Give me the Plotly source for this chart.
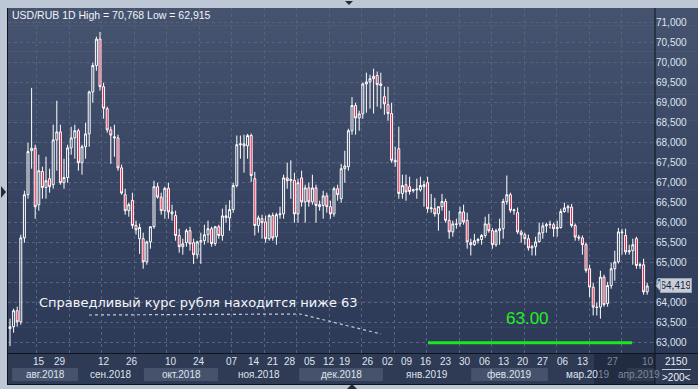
import plotly.graph_objects as go

# ---------------- data ----------------
open_ = [63.35, 63.40, 63.80, 63.52, 65.62, 66.70, 67.80, 67.86, 66.45, 67.28,
         66.88, 67.10, 66.95, 68.07, 68.27, 67.00, 67.13, 67.87, 68.12, 68.30,
         67.50, 67.90, 68.22, 69.27, 69.93, 70.59, 69.40, 68.85, 68.32, 68.15,
         68.12, 67.37, 66.70, 66.30, 66.56, 65.93, 65.60, 65.60, 65.02, 65.52,
         65.90, 66.90, 66.64, 66.30, 66.86, 66.27, 66.18, 65.68, 65.40, 65.50,
         65.80, 65.50, 65.20, 65.52, 65.55, 65.70, 65.85, 65.48, 65.90, 65.68,
         66.17, 66.12, 66.33, 66.93, 67.95, 67.97, 67.92, 68.18, 67.10, 65.93,
         66.10, 66.02, 65.60, 66.18, 65.65, 66.20, 66.22, 67.12, 67.05, 67.06,
         66.22, 67.12, 66.52, 66.87, 66.52, 66.87, 66.40, 66.43, 66.67, 66.40,
         66.22, 66.85, 66.60, 67.35, 67.40, 68.30, 68.93, 68.62, 68.72, 69.47,
         69.52, 69.60, 69.68, 69.47, 69.15, 68.95, 68.73, 67.56, 67.85, 66.73,
         66.95, 66.90, 66.80, 66.82, 66.82, 66.90, 67.00, 66.35, 66.35, 66.22,
         66.40, 66.53, 66.06, 65.77, 65.97, 65.97, 66.27, 66.06, 65.50, 65.45,
         65.55, 65.58, 65.68, 65.97, 65.80, 65.45, 65.80, 65.85, 66.53, 66.70,
         66.30, 66.25, 65.77, 65.70, 65.60, 65.37, 65.40, 65.53, 65.75, 65.92,
         65.95, 65.95, 65.85, 65.88, 66.28, 66.37, 66.39, 65.93, 65.64, 65.62,
         65.45, 64.85, 64.39, 63.89, 63.89, 64.64, 63.98, 64.43, 64.85, 65.02,
         65.77, 65.68, 65.27, 65.30, 65.60, 64.93, 64.95, 64.27]
high = [63.60, 63.85, 63.90, 65.70, 66.80, 68.00, 69.37, 67.95, 67.70, 67.40,
        67.65, 67.35, 68.45, 69.05, 68.45, 67.60, 67.95, 68.40, 68.45, 68.35,
        67.95, 68.50, 69.30, 70.00, 70.65, 70.768, 69.50, 68.90, 68.40, 68.45,
        68.20, 67.45, 66.85, 66.50, 66.75, 66.05, 65.98, 65.75, 65.55, 65.90,
        67.05, 67.00, 66.75, 66.90, 67.00, 66.45, 66.30, 65.85, 65.60, 65.85,
        65.90, 65.60, 65.55, 65.75, 65.95, 66.05, 65.90, 65.92, 65.95, 66.35,
        66.45, 66.56, 67.00, 68.18, 68.18, 68.20, 68.22, 68.23, 67.27, 66.18,
        66.20, 66.18, 66.22, 66.25, 66.25, 66.40, 67.20, 67.50, 67.56, 67.25,
        67.10, 67.30, 66.95, 67.00, 67.20, 66.95, 66.55, 66.80, 66.75, 66.55,
        66.90, 66.95, 67.47, 67.80, 68.35, 69.14, 69.00, 68.80, 69.50, 69.75,
        69.70, 69.85, 69.78, 69.75, 69.40, 69.40, 69.00, 67.90, 68.40, 67.20,
        67.20, 67.15, 66.85, 67.10, 67.15, 67.05, 67.15, 66.72, 66.62, 66.40,
        66.72, 66.60, 66.30, 66.05, 66.10, 66.40, 66.45, 66.25, 65.60, 65.72,
        65.62, 65.72, 66.15, 66.22, 65.87, 65.85, 66.10, 66.60, 67.18, 66.75,
        66.35, 66.38, 65.82, 65.75, 65.70, 65.45, 65.65, 66.00, 66.00, 66.00,
        66.05, 66.00, 66.05, 66.35, 66.50, 66.45, 66.47, 65.98, 65.70, 65.68,
        65.50, 64.95, 64.50, 64.00, 64.80, 64.70, 64.52, 65.00, 65.30, 65.87,
        65.85, 65.85, 65.45, 65.60, 65.65, 65.00, 65.10, 64.50]
low = [62.915, 63.25, 63.40, 63.45, 65.50, 66.60, 67.35, 66.10, 66.30, 66.60,
       66.60, 66.75, 66.85, 67.30, 66.95, 66.85, 67.00, 67.70, 67.60, 67.30,
       67.20, 67.60, 67.90, 69.00, 69.80, 69.30, 68.60, 68.25, 67.47, 67.65,
       67.30, 66.70, 66.20, 66.15, 65.85, 65.70, 65.22, 64.85, 64.95, 65.35,
       65.85, 66.60, 66.20, 66.10, 66.10, 66.05, 65.55, 65.25, 65.20, 65.40,
       65.30, 64.97, 65.10, 64.97, 65.45, 65.50, 65.40, 65.42, 65.60, 65.55,
       66.00, 65.80, 66.25, 66.88, 67.60, 67.25, 67.60, 67.02, 65.68, 65.75,
       65.60, 65.50, 65.55, 65.55, 65.45, 66.10, 66.10, 66.85, 66.60, 66.00,
       66.00, 66.40, 66.00, 66.40, 66.45, 66.00, 66.30, 66.10, 66.25, 66.10,
       66.15, 66.55, 66.50, 67.00, 67.30, 68.20, 68.20, 68.30, 68.60, 68.75,
       68.85, 68.73, 68.90, 68.85, 68.70, 68.55, 67.50, 67.40, 66.60, 66.60,
       66.55, 66.70, 66.75, 66.60, 66.78, 66.40, 66.25, 66.25, 66.15, 65.80,
       66.30, 66.00, 65.60, 65.65, 65.85, 65.90, 65.95, 65.35, 65.18, 65.42,
       65.48, 65.45, 65.62, 65.75, 65.35, 65.40, 65.45, 65.60, 66.45, 66.25,
       66.20, 65.72, 65.50, 65.45, 65.30, 65.18, 65.18, 65.50, 65.60, 65.75,
       65.85, 65.65, 65.65, 65.85, 66.25, 66.25, 65.88, 65.55, 65.55, 65.20,
       64.75, 64.14, 63.68, 63.68, 63.60, 63.90, 63.90, 64.35, 64.55, 64.98,
       65.20, 65.20, 65.20, 64.95, 64.85, 64.85, 64.20, 64.20]
close = [63.40, 63.80, 63.52, 65.62, 66.70, 67.78, 67.86, 66.40, 67.30, 66.88,
         67.05, 66.90, 68.07, 68.27, 67.00, 67.13, 67.87, 68.12, 68.30, 67.50,
         67.90, 68.22, 69.27, 69.93, 70.59, 69.40, 68.86, 68.32, 68.19, 68.12,
         67.37, 66.74, 66.30, 66.45, 65.93, 65.82, 65.88, 65.02, 65.52, 65.90,
         66.90, 66.64, 66.30, 66.86, 66.27, 66.22, 65.68, 65.40, 65.47, 65.80,
         65.47, 65.20, 65.52, 65.55, 65.70, 65.85, 65.48, 65.90, 65.68, 66.17,
         66.13, 66.33, 66.93, 67.95, 67.97, 67.92, 68.18, 67.18, 65.93, 66.12,
         66.00, 65.60, 66.18, 65.62, 66.20, 66.22, 67.12, 67.05, 67.08, 66.22,
         67.00, 66.52, 66.87, 66.52, 66.87, 66.43, 66.45, 66.67, 66.40, 66.22,
         66.85, 66.70, 67.35, 67.42, 68.30, 68.93, 68.62, 68.72, 69.47, 69.52,
         69.60, 69.66, 69.45, 69.43, 68.97, 68.73, 67.56, 67.52, 66.73, 66.93,
         66.77, 66.78, 66.82, 66.84, 66.93, 66.95, 66.35, 66.37, 66.22, 66.40,
         66.53, 66.06, 65.77, 65.97, 65.96, 66.27, 66.02, 65.52, 65.45, 65.55,
         65.58, 65.68, 65.97, 65.80, 65.45, 65.80, 65.85, 66.53, 66.70, 66.31,
         66.32, 65.77, 65.70, 65.60, 65.37, 65.40, 65.52, 65.75, 65.92, 65.95,
         65.96, 65.85, 65.88, 66.28, 66.37, 66.40, 65.93, 65.64, 65.62, 65.45,
         64.81, 64.39, 63.89, 63.88, 64.64, 63.95, 64.43, 64.85, 65.02, 65.77,
         65.75, 65.27, 65.30, 65.45, 64.93, 64.95, 64.27, 64.419]

y_ticks = [63.0, 63.5, 64.0, 64.5, 65.0, 65.5, 66.0, 66.5, 67.0,
           67.5, 68.0, 68.5, 69.0, 69.5, 70.0, 70.5, 71.0]
y_tick_labels = ["63,000", "63,500", "64,000", "64,500", "65,000", "65,500",
                 "66,000", "66,500", "67,000", "67,500", "68,000", "68,500",
                 "69,000", "69,500", "70,000", "70,500", "71,000"]

day_labels = ["15", "29", "12", "26", "10", "24", "07", "14", "21", "28", "05",
              "12", "19", "26", "02", "09", "16", "23", "30", "06", "13", "20",
              "27", "06", "13", "27", "10"]
day_pos = [8.1, 13.9, 26.1, 33.9, 44.7, 52.5, 61.7, 67.8, 73.1, 77.8, 83.3,
           88.6, 93.1, 99.4, 105.0, 110.3, 115.6, 121.1, 126.4, 131.9, 137.2,
           142.5, 148.1, 153.6, 159.2, 167.5, 177.2]

month_labels = ["авг.2018", "сен.2018", "окт.2018", "ноя.2018", "дек.2018",
                "янв.2019", "фев.2019", "мар.2019", "апр.2019"]
month_edges = [0.6, 18.9, 37.2, 57.8, 80.3, 103.6, 128.1, 149.4, 171.4, 179.2]

target_level = 63.00
target_span = [116.1, 172.8]
note_text = "Справедливый курс рубля находится ниже 63"

# ---------------- geometry helpers ----------------
W, H = 698, 389
ML, MR, MT, MB = 8, 43, 8, 36
PW, PH = W - ML - MR, H - MT - MB
X0 = -2 / 3.6
X1 = X0 + PW / 3.6
Y0 = 71 - (PH + MT - 22.7) / 40
Y1 = 71 + (22.7 - MT) / 40


def fx(p):
    return (p - ML) / PW


def fy(p):
    return (MT + PH - p) / PH


def ix(i):
    return (i - X0) / (X1 - X0)


def path(pts):
    return "M " + " L ".join(f"{fx(a):.5f},{fy(b):.5f}" for a, b in pts) + " Z"


idx = list(range(len(close)))

fig = go.Figure()
fig.add_trace(go.Candlestick(
    x=idx, open=open_, high=high, low=low, close=close,
    increasing=dict(line=dict(color="#ffffff", width=1), fillcolor="rgba(0,0,0,0)"),
    decreasing=dict(line=dict(color="#ffffff", width=1), fillcolor="#e5163f"),
    whiskerwidth=0, hoverinfo="skip", showlegend=False))
fig.add_trace(go.Scatter(
    x=target_span, y=[target_level, target_level], mode="lines",
    line=dict(color="#1ee61e", width=3), hoverinfo="skip", showlegend=False))

shapes = []
# gradient background (plot + right axis panel)
top = (0x46, 0x53, 0x6f)
bot = (0x2c, 0x39, 0x57)
nb = 40
for k in range(nb):
    t = k / (nb - 1)
    c = tuple(round(top[j] + (bot[j] - top[j]) * t) for j in range(3))
    y0 = MT + PH * k / nb
    y1 = MT + PH * (k + 1) / nb + 0.6
    shapes.append(dict(type="rect", xref="paper", yref="paper", layer="below",
                       x0=fx(ML), x1=fx(W), y0=fy(y1), y1=fy(y0),
                       fillcolor="rgb(%d,%d,%d)" % c, line=dict(width=0)))
# bottom axis panel
shapes.append(dict(type="rect", xref="paper", yref="paper", layer="below",
                   x0=fx(ML), x1=fx(W), y0=fy(385), y1=fy(353),
                   fillcolor="#2f3a55", line=dict(width=0)))
# month boxes
for m in range(len(month_labels)):
    if m % 2 == 0:
        shapes.append(dict(type="rect", xref="paper", yref="paper", layer="below",
                           x0=ix(month_edges[m]), x1=min(ix(month_edges[m + 1]), 1.0),
                           y0=fy(381), y1=fy(368),
                           fillcolor="#46526c", line=dict(width=0)))
# dim scroll overlay
shapes.append(dict(type="rect", xref="paper", yref="paper", layer="below",
                   x0=fx(594), x1=fx(655), y0=fy(384), y1=fy(354),
                   fillcolor="rgba(18,26,44,0.45)", line=dict(width=0)))
# dark separator lines
for (xa, ya, xb, yb) in [(655, MT, 655, 385), (ML, 353.5, W, 353.5),
                         (7.5, MT, 7.5, 385), (ML, 384.5, W, 384.5)]:
    shapes.append(dict(type="line", xref="paper", yref="paper",
                       x0=fx(xa), y0=fy(ya), x1=fx(xb), y1=fy(yb),
                       line=dict(color="#10141c", width=1)))
# underline in corner box
shapes.append(dict(type="line", xref="paper", yref="paper",
                   x0=fx(662), y0=fy(369.5), x1=fx(691), y1=fy(369.5),
                   line=dict(color="#c9d1dd", width=1)))
# triangles
for pts in [[(345, 1), (353, 1), (349, 5)],
            [(1, 186), (1, 198), (6, 192)],
            [(347, 389), (357, 389), (352, 384)]]:
    shapes.append(dict(type="path", xref="paper", yref="paper", path=path(pts),
                       fillcolor="#232b3b", line=dict(width=0)))
# last price tag pointer
yp = 22.7 + (71 - close[-1]) * 40
shapes.append(dict(type="path", xref="paper", yref="paper",
                   path=path([(656, yp), (661, yp - 6.5), (662, yp + 6.5)]),
                   fillcolor="#c7ced9", line=dict(color="#9aa4b4", width=1)))
# dotted pointer under the note
shapes.append(dict(type="path", xref="paper", yref="paper",
                   path="M %f,%f L %f,%f L %f,%f" % (fx(89), fy(315), fx(300), fy(314),
                                                     fx(381), fy(334)),
                   line=dict(color="#c3cad6", width=1.2, dash="dot")))

ann = []
ann.append(dict(xref="paper", yref="paper", x=fx(10), y=fy(15), xanchor="left",
                yanchor="middle", showarrow=False,
                text="USD/RUB 1D High = %s Low = %s" % (
                    f"{max(high):.3f}".replace(".", ","), f"{min(low):.3f}".replace(".", ",")),
                font=dict(family="Liberation Sans", size=10.5, color="#f2f4f8")))
ann.append(dict(xref="paper", yref="paper", x=fx(37), y=fy(302), xanchor="left",
                yanchor="middle", showarrow=False, text=note_text,
                font=dict(family="DejaVu Sans", size=13, color="#f4f6fa")))
ann.append(dict(xref="paper", yref="paper", x=fx(527), y=fy(318), xanchor="center",
                yanchor="middle", showarrow=False, text=f"{target_level:.2f}",
                font=dict(family="Liberation Sans", size=17, color="#22f022")))
# last price tag (annotation box covers the axis label beneath it)
ann.append(dict(xref="paper", yref="paper", x=fx(660), y=fy(yp), xanchor="left",
                yanchor="middle", showarrow=False,
                text=f"{close[-1]:.3f}".replace(".", ","),
                width=28, height=11, borderpad=1, align="center",
                bgcolor="#c7ced9", bordercolor="#9aa4b4", borderwidth=1,
                font=dict(family="Liberation Sans", size=10, color="#1b2233")))
for lab, pos in zip(day_labels, day_pos):
    dim = ix(pos) > fx(594)
    ann.append(dict(xref="paper", yref="paper", x=ix(pos), y=fy(361.5),
                    xanchor="center", yanchor="middle", showarrow=False, text=lab,
                    font=dict(family="Liberation Sans", size=10,
                              color="#7d889c" if dim else "#dfe5ee")))
for m, lab in enumerate(month_labels):
    cx = (month_edges[m] + month_edges[m + 1]) / 2
    col = "#dfe5ee"
    txt = lab
    if m == len(month_labels) - 2:
        txt = lab[:6] + "<span style='color:#7d889c'>" + lab[6:] + "</span>"
    if m == len(month_labels) - 1:
        cx = month_edges[m] + 3.4
        col = "#7d889c"
    ann.append(dict(xref="paper", yref="paper", x=ix(cx), y=fy(374.5),
                    xanchor="center", yanchor="middle", showarrow=False, text=txt,
                    font=dict(family="Liberation Sans", size=10, color=col)))
ann.append(dict(xref="paper", yref="paper", x=fx(676.5), y=fy(361.5), xanchor="center",
                yanchor="middle", showarrow=False, text="2150",
                font=dict(family="Liberation Sans", size=10, color="#eef1f6")))
ann.append(dict(xref="paper", yref="paper", x=fx(676.5), y=fy(377), xanchor="center",
                yanchor="middle", showarrow=False, text="&gt;200&lt;",
                font=dict(family="Liberation Sans", size=10, color="#eef1f6")))

fig.update_layout(
    width=W, height=H, margin=dict(l=ML, r=MR, t=MT, b=MB, pad=0),
    paper_bgcolor="#bdc7d5", plot_bgcolor="rgba(0,0,0,0)",
    shapes=shapes, annotations=ann, boxgap=0.22, showlegend=False,
    xaxis=dict(range=[X0, X1], showticklabels=False, ticks="", showgrid=True,
               tick0=7.42, dtick=9.03, gridcolor="#56637f", griddash="3px,3px",
               gridwidth=1, zeroline=False, showline=False,
               rangeslider=dict(visible=False), fixedrange=True),
    yaxis=dict(range=[Y0, Y1], side="right", tickvals=y_ticks, ticktext=y_tick_labels,
               ticks="", showgrid=True, gridcolor="#56637f", griddash="3px,3px",
               gridwidth=1, zeroline=False, showline=False, fixedrange=True,
               tickfont=dict(family="Liberation Sans", size=10, color="#dfe5ee")),
)

fig.write_html("out.html")
